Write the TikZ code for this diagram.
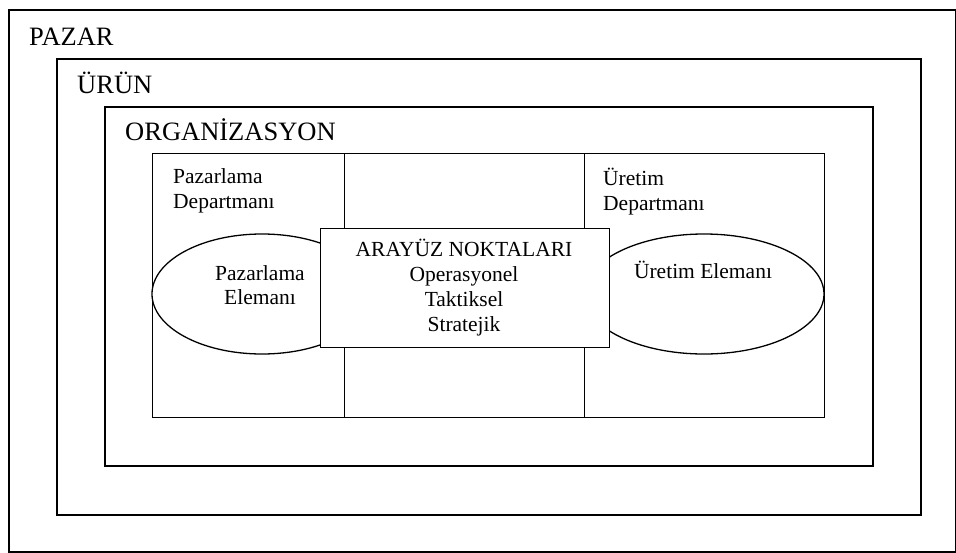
\documentclass[tikz,border=0pt]{standalone}
\usepackage{fontspec}
\setmainfont{Liberation Serif}
\usetikzlibrary{shapes.geometric}
\begin{document}
\begin{tikzpicture}[x=1pt,y=-1pt,
  frame/.style={draw,line width=1.5pt,inner sep=0pt,anchor=north west},
  cell/.style={draw,line width=1.3pt,inner sep=0pt,anchor=north west},
  big/.style={font=\fontsize{26.5}{30}\selectfont,inner sep=0pt,anchor=base west},
  small/.style={font=\fontsize{21.5}{25}\selectfont,inner sep=0pt},
  oval/.style={draw,ellipse,line width=1.3pt,fill=white,inner sep=0pt}]
\useasboundingbox (0,0) rectangle (956,552);
\node[frame,minimum width=947pt,minimum height=542pt] (pazar) at (8,9) {};
\node[frame,minimum width=864pt,minimum height=456pt] (urun) at (56,58) {};
\node[frame,minimum width=768pt,minimum height=359pt] (org) at (104,106) {};
\node[cell,minimum width=192pt,minimum height=264pt] (pd) at (152,153) {};
\node[cell,minimum width=240pt,minimum height=264pt] (mid) at (344,153) {};
\node[cell,minimum width=240pt,minimum height=264pt] (ud) at (584,153) {};
\node[big] (tpazar) at (29,45) {PAZAR};
\node[big] (turun) at (77,93) {ÜRÜN};
\node[big] (torg) at (125,140) {ORGANİZASYON};
\node[small,anchor=base west] (tpd) at (173,183) {Pazarlama};
\node[small,anchor=base west] (tpd2) at (173,208) {Departmanı};
\node[small,anchor=base west] (tud) at (603,185) {Üretim};
\node[small,anchor=base west] (tud2) at (603,210) {Departmanı};
\node[oval,minimum width=220pt,minimum height=120pt] (pe) at (262,294) {};
\node[oval,minimum width=240pt,minimum height=120pt] (ue) at (704,294) {};
\node[small,anchor=base] (tpe1) at (260,280) {Pazarlama};
\node[small,anchor=base] (tpe2) at (260,304) {Elemanı};
\node[small,anchor=base] (tue) at (703,278) {Üretim Elemanı};
\node[cell,fill=white,minimum width=289pt,minimum height=119pt] (ara) at (320,228) {};
\node[small,anchor=base] (a1) at (464,256) {ARAYÜZ NOKTALARI};
\node[small,anchor=base] (a2) at (464,281) {Operasyonel};
\node[small,anchor=base] (a3) at (464,306) {Taktiksel};
\node[small,anchor=base] (a4) at (464,331) {Stratejik};
\end{tikzpicture}
\end{document}
